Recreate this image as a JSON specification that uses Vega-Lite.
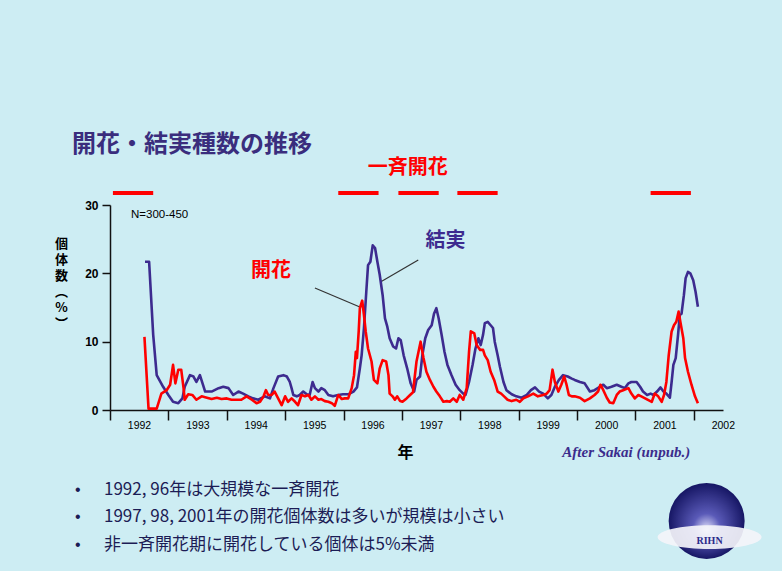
{
  "$schema": "https://vega.github.io/schema/vega-lite/v6.json",
  "width": 613,
  "height": 205,
  "autosize": {"type": "none"},
  "padding": {"left": 110, "top": 205, "right": 59, "bottom": 161},
  "background": "#cdedf3",
  "config": {"view": {"stroke": null}, "font": "Liberation Sans"},
  "title": {
    "text": "開花・結実種数の推移",
    "anchor": "start",
    "frame": "group",
    "dx": -38,
    "offset": -23,
    "baseline": "bottom",
    "font": "Noto Sans CJK JP",
    "fontSize": 24,
    "fontWeight": "bold",
    "color": "#3a2d7d"
  },
  "datasets": {
    "series": [
      {"year": 1992.60, "value": 21.7, "s": "結実"}, {"year": 1992.67, "value": 21.7, "s": "結実"}, {"year": 1992.74, "value": 11.0, "s": "結実"}, {"year": 1992.80, "value": 5.1, "s": "結実"}, {"year": 1992.91, "value": 3.4, "s": "結実"}, {"year": 1993.00, "value": 2.2, "s": "結実"}, {"year": 1993.08, "value": 1.2, "s": "結実"}, {"year": 1993.17, "value": 1.0, "s": "結実"}, {"year": 1993.24, "value": 1.7, "s": "結実"}, {"year": 1993.28, "value": 3.4, "s": "結実"}, {"year": 1993.37, "value": 5.1, "s": "結実"}, {"year": 1993.43, "value": 4.9, "s": "結実"}, {"year": 1993.48, "value": 4.1, "s": "結実"}, {"year": 1993.54, "value": 5.1, "s": "結実"}, {"year": 1993.63, "value": 2.7, "s": "結実"}, {"year": 1993.74, "value": 2.7, "s": "結実"}, {"year": 1993.86, "value": 3.2, "s": "結実"}, {"year": 1993.94, "value": 3.4, "s": "結実"}, {"year": 1994.03, "value": 3.2, "s": "結実"}, {"year": 1994.11, "value": 2.2, "s": "結実"}, {"year": 1994.20, "value": 2.7, "s": "結実"}, {"year": 1994.28, "value": 2.4, "s": "結実"}, {"year": 1994.37, "value": 2.0, "s": "結実"}, {"year": 1994.45, "value": 1.7, "s": "結実"}, {"year": 1994.54, "value": 1.5, "s": "結実"}, {"year": 1994.65, "value": 2.0, "s": "結実"}, {"year": 1994.74, "value": 1.7, "s": "結実"}, {"year": 1994.80, "value": 3.2, "s": "結実"}, {"year": 1994.88, "value": 4.9, "s": "結実"}, {"year": 1994.97, "value": 5.1, "s": "結実"}, {"year": 1995.03, "value": 4.9, "s": "結実"}, {"year": 1995.08, "value": 4.1, "s": "結実"}, {"year": 1995.11, "value": 3.2, "s": "結実"}, {"year": 1995.14, "value": 2.2, "s": "結実"}, {"year": 1995.20, "value": 2.0, "s": "結実"}, {"year": 1995.25, "value": 2.2, "s": "結実"}, {"year": 1995.31, "value": 2.7, "s": "結実"}, {"year": 1995.37, "value": 2.3, "s": "結実"}, {"year": 1995.42, "value": 2.2, "s": "結実"}, {"year": 1995.47, "value": 4.1, "s": "結実"}, {"year": 1995.51, "value": 3.2, "s": "結実"}, {"year": 1995.57, "value": 2.7, "s": "結実"}, {"year": 1995.62, "value": 3.2, "s": "結実"}, {"year": 1995.68, "value": 2.9, "s": "結実"}, {"year": 1995.74, "value": 2.2, "s": "結実"}, {"year": 1995.82, "value": 2.0, "s": "結実"}, {"year": 1995.91, "value": 2.2, "s": "結実"}, {"year": 1995.99, "value": 2.3, "s": "結実"}, {"year": 1996.08, "value": 2.3, "s": "結実"}, {"year": 1996.17, "value": 2.7, "s": "結実"}, {"year": 1996.23, "value": 3.3, "s": "結実"}, {"year": 1996.28, "value": 6.1, "s": "結実"}, {"year": 1996.31, "value": 8.0, "s": "結実"}, {"year": 1996.35, "value": 12.0, "s": "結実"}, {"year": 1996.39, "value": 17.3, "s": "結実"}, {"year": 1996.42, "value": 21.2, "s": "結実"}, {"year": 1996.46, "value": 21.7, "s": "結実"}, {"year": 1996.50, "value": 24.1, "s": "結実"}, {"year": 1996.54, "value": 23.7, "s": "結実"}, {"year": 1996.58, "value": 21.7, "s": "結実"}, {"year": 1996.62, "value": 19.8, "s": "結実"}, {"year": 1996.67, "value": 16.8, "s": "結実"}, {"year": 1996.71, "value": 13.4, "s": "結実"}, {"year": 1996.75, "value": 12.2, "s": "結実"}, {"year": 1996.79, "value": 10.5, "s": "結実"}, {"year": 1996.85, "value": 9.3, "s": "結実"}, {"year": 1996.90, "value": 9.0, "s": "結実"}, {"year": 1996.94, "value": 10.5, "s": "結実"}, {"year": 1996.98, "value": 10.2, "s": "結実"}, {"year": 1997.03, "value": 8.0, "s": "結実"}, {"year": 1997.09, "value": 6.1, "s": "結実"}, {"year": 1997.15, "value": 3.9, "s": "結実"}, {"year": 1997.21, "value": 2.7, "s": "結実"}, {"year": 1997.25, "value": 4.4, "s": "結実"}, {"year": 1997.31, "value": 4.9, "s": "結実"}, {"year": 1997.35, "value": 8.0, "s": "結実"}, {"year": 1997.40, "value": 10.5, "s": "結実"}, {"year": 1997.45, "value": 11.7, "s": "結実"}, {"year": 1997.51, "value": 12.4, "s": "結実"}, {"year": 1997.55, "value": 14.1, "s": "結実"}, {"year": 1997.59, "value": 14.9, "s": "結実"}, {"year": 1997.63, "value": 13.4, "s": "結実"}, {"year": 1997.68, "value": 11.0, "s": "結実"}, {"year": 1997.73, "value": 8.5, "s": "結実"}, {"year": 1997.78, "value": 6.6, "s": "結実"}, {"year": 1997.85, "value": 5.1, "s": "結実"}, {"year": 1997.92, "value": 3.7, "s": "結実"}, {"year": 1997.99, "value": 2.9, "s": "結実"}, {"year": 1998.05, "value": 2.4, "s": "結実"}, {"year": 1998.09, "value": 2.2, "s": "結実"}, {"year": 1998.15, "value": 4.1, "s": "結実"}, {"year": 1998.21, "value": 6.6, "s": "結実"}, {"year": 1998.26, "value": 9.0, "s": "結実"}, {"year": 1998.31, "value": 10.5, "s": "結実"}, {"year": 1998.35, "value": 9.5, "s": "結実"}, {"year": 1998.39, "value": 11.0, "s": "結実"}, {"year": 1998.42, "value": 12.7, "s": "結実"}, {"year": 1998.47, "value": 12.9, "s": "結実"}, {"year": 1998.52, "value": 12.4, "s": "結実"}, {"year": 1998.56, "value": 12.0, "s": "結実"}, {"year": 1998.59, "value": 10.0, "s": "結実"}, {"year": 1998.64, "value": 8.0, "s": "結実"}, {"year": 1998.68, "value": 6.3, "s": "結実"}, {"year": 1998.74, "value": 4.1, "s": "結実"}, {"year": 1998.79, "value": 2.9, "s": "結実"}, {"year": 1998.88, "value": 2.3, "s": "結実"}, {"year": 1998.96, "value": 2.0, "s": "結実"}, {"year": 1999.05, "value": 1.8, "s": "結実"}, {"year": 1999.14, "value": 2.2, "s": "結実"}, {"year": 1999.21, "value": 2.9, "s": "結実"}, {"year": 1999.28, "value": 3.3, "s": "結実"}, {"year": 1999.35, "value": 2.7, "s": "結実"}, {"year": 1999.42, "value": 2.4, "s": "結実"}, {"year": 1999.50, "value": 1.7, "s": "結実"}, {"year": 1999.56, "value": 2.2, "s": "結実"}, {"year": 1999.62, "value": 3.4, "s": "結実"}, {"year": 1999.69, "value": 4.4, "s": "結実"}, {"year": 1999.76, "value": 5.1, "s": "結実"}, {"year": 1999.84, "value": 4.9, "s": "結実"}, {"year": 1999.91, "value": 4.6, "s": "結実"}, {"year": 1999.96, "value": 4.4, "s": "結実"}, {"year": 2000.05, "value": 4.1, "s": "結実"}, {"year": 2000.13, "value": 3.9, "s": "結実"}, {"year": 2000.22, "value": 2.7, "s": "結実"}, {"year": 2000.30, "value": 2.9, "s": "結実"}, {"year": 2000.39, "value": 3.4, "s": "結実"}, {"year": 2000.45, "value": 3.7, "s": "結実"}, {"year": 2000.51, "value": 3.2, "s": "結実"}, {"year": 2000.59, "value": 3.4, "s": "結実"}, {"year": 2000.68, "value": 3.7, "s": "結実"}, {"year": 2000.76, "value": 3.4, "s": "結実"}, {"year": 2000.82, "value": 3.2, "s": "結実"}, {"year": 2000.88, "value": 3.9, "s": "結実"}, {"year": 2000.93, "value": 4.1, "s": "結実"}, {"year": 2001.02, "value": 4.1, "s": "結実"}, {"year": 2001.08, "value": 3.4, "s": "結実"}, {"year": 2001.13, "value": 2.7, "s": "結実"}, {"year": 2001.20, "value": 2.2, "s": "結実"}, {"year": 2001.26, "value": 2.4, "s": "結実"}, {"year": 2001.31, "value": 2.2, "s": "結実"}, {"year": 2001.37, "value": 2.7, "s": "結実"}, {"year": 2001.43, "value": 3.3, "s": "結実"}, {"year": 2001.48, "value": 2.7, "s": "結実"}, {"year": 2001.53, "value": 2.4, "s": "結実"}, {"year": 2001.59, "value": 1.8, "s": "結実"}, {"year": 2001.62, "value": 4.1, "s": "結実"}, {"year": 2001.65, "value": 6.6, "s": "結実"}, {"year": 2001.69, "value": 7.6, "s": "結実"}, {"year": 2001.73, "value": 11.0, "s": "結実"}, {"year": 2001.76, "value": 13.9, "s": "結実"}, {"year": 2001.79, "value": 14.1, "s": "結実"}, {"year": 2001.83, "value": 16.8, "s": "結実"}, {"year": 2001.86, "value": 19.3, "s": "結実"}, {"year": 2001.90, "value": 20.2, "s": "結実"}, {"year": 2001.94, "value": 20.0, "s": "結実"}, {"year": 2001.99, "value": 19.0, "s": "結実"}, {"year": 2002.03, "value": 17.3, "s": "結実"}, {"year": 2002.07, "value": 15.1, "s": "結実"},
      {"year": 1992.59, "value": 10.7, "s": "開花"}, {"year": 1992.66, "value": 0.2, "s": "開花"}, {"year": 1992.80, "value": 0.2, "s": "開花"}, {"year": 1992.88, "value": 2.4, "s": "開花"}, {"year": 1992.97, "value": 2.9, "s": "開花"}, {"year": 1993.03, "value": 3.7, "s": "開花"}, {"year": 1993.08, "value": 6.6, "s": "開花"}, {"year": 1993.12, "value": 3.9, "s": "開花"}, {"year": 1993.17, "value": 5.9, "s": "開花"}, {"year": 1993.22, "value": 5.9, "s": "開花"}, {"year": 1993.26, "value": 3.2, "s": "開花"}, {"year": 1993.28, "value": 1.5, "s": "開花"}, {"year": 1993.34, "value": 2.3, "s": "開花"}, {"year": 1993.41, "value": 2.2, "s": "開花"}, {"year": 1993.48, "value": 1.5, "s": "開花"}, {"year": 1993.57, "value": 2.0, "s": "開花"}, {"year": 1993.66, "value": 1.8, "s": "開花"}, {"year": 1993.74, "value": 1.6, "s": "開花"}, {"year": 1993.83, "value": 1.8, "s": "開花"}, {"year": 1993.91, "value": 1.6, "s": "開花"}, {"year": 1994.00, "value": 1.7, "s": "開花"}, {"year": 1994.08, "value": 1.5, "s": "開花"}, {"year": 1994.17, "value": 1.5, "s": "開花"}, {"year": 1994.25, "value": 1.5, "s": "開花"}, {"year": 1994.34, "value": 2.0, "s": "開花"}, {"year": 1994.43, "value": 1.5, "s": "開花"}, {"year": 1994.51, "value": 1.0, "s": "開花"}, {"year": 1994.57, "value": 1.2, "s": "開花"}, {"year": 1994.63, "value": 2.0, "s": "開花"}, {"year": 1994.67, "value": 2.9, "s": "開花"}, {"year": 1994.71, "value": 2.2, "s": "開花"}, {"year": 1994.77, "value": 2.2, "s": "開花"}, {"year": 1994.82, "value": 2.7, "s": "開花"}, {"year": 1994.88, "value": 1.7, "s": "開花"}, {"year": 1994.94, "value": 0.7, "s": "開花"}, {"year": 1995.00, "value": 2.0, "s": "開花"}, {"year": 1995.05, "value": 1.2, "s": "開花"}, {"year": 1995.11, "value": 1.7, "s": "開花"}, {"year": 1995.17, "value": 1.2, "s": "開花"}, {"year": 1995.22, "value": 0.7, "s": "開花"}, {"year": 1995.28, "value": 2.2, "s": "開花"}, {"year": 1995.34, "value": 2.0, "s": "開花"}, {"year": 1995.40, "value": 2.2, "s": "開花"}, {"year": 1995.45, "value": 1.5, "s": "開花"}, {"year": 1995.51, "value": 2.0, "s": "開花"}, {"year": 1995.57, "value": 1.5, "s": "開花"}, {"year": 1995.62, "value": 1.6, "s": "開花"}, {"year": 1995.68, "value": 1.3, "s": "開花"}, {"year": 1995.74, "value": 1.2, "s": "開花"}, {"year": 1995.80, "value": 1.0, "s": "開花"}, {"year": 1995.85, "value": 0.6, "s": "開花"}, {"year": 1995.91, "value": 2.2, "s": "開花"}, {"year": 1995.97, "value": 1.6, "s": "開花"}, {"year": 1996.02, "value": 1.7, "s": "開花"}, {"year": 1996.08, "value": 1.7, "s": "開花"}, {"year": 1996.14, "value": 3.2, "s": "開花"}, {"year": 1996.18, "value": 5.1, "s": "開花"}, {"year": 1996.21, "value": 8.5, "s": "開花"}, {"year": 1996.23, "value": 7.6, "s": "開花"}, {"year": 1996.26, "value": 11.5, "s": "開花"}, {"year": 1996.28, "value": 14.9, "s": "開花"}, {"year": 1996.32, "value": 16.0, "s": "開花"}, {"year": 1996.35, "value": 13.9, "s": "開花"}, {"year": 1996.38, "value": 11.5, "s": "開花"}, {"year": 1996.42, "value": 9.0, "s": "開花"}, {"year": 1996.48, "value": 7.1, "s": "開花"}, {"year": 1996.52, "value": 4.4, "s": "開花"}, {"year": 1996.58, "value": 3.9, "s": "開花"}, {"year": 1996.62, "value": 6.1, "s": "開花"}, {"year": 1996.67, "value": 7.3, "s": "開花"}, {"year": 1996.73, "value": 7.1, "s": "開花"}, {"year": 1996.77, "value": 5.1, "s": "開花"}, {"year": 1996.79, "value": 2.4, "s": "開花"}, {"year": 1996.84, "value": 2.0, "s": "開花"}, {"year": 1996.88, "value": 1.5, "s": "開花"}, {"year": 1996.92, "value": 2.0, "s": "開花"}, {"year": 1996.97, "value": 1.3, "s": "開花"}, {"year": 1997.01, "value": 1.2, "s": "開花"}, {"year": 1997.08, "value": 1.7, "s": "開花"}, {"year": 1997.14, "value": 2.2, "s": "開花"}, {"year": 1997.19, "value": 2.6, "s": "開花"}, {"year": 1997.25, "value": 7.1, "s": "開花"}, {"year": 1997.32, "value": 10.0, "s": "開花"}, {"year": 1997.37, "value": 7.6, "s": "開花"}, {"year": 1997.42, "value": 5.6, "s": "開花"}, {"year": 1997.48, "value": 4.4, "s": "開花"}, {"year": 1997.54, "value": 3.4, "s": "開花"}, {"year": 1997.59, "value": 2.7, "s": "開花"}, {"year": 1997.65, "value": 2.0, "s": "開花"}, {"year": 1997.71, "value": 1.2, "s": "開花"}, {"year": 1997.77, "value": 1.3, "s": "開花"}, {"year": 1997.82, "value": 1.2, "s": "開花"}, {"year": 1997.88, "value": 1.7, "s": "開花"}, {"year": 1997.94, "value": 1.2, "s": "開花"}, {"year": 1997.99, "value": 2.2, "s": "開花"}, {"year": 1998.05, "value": 1.5, "s": "開花"}, {"year": 1998.11, "value": 3.2, "s": "開花"}, {"year": 1998.15, "value": 8.5, "s": "開花"}, {"year": 1998.18, "value": 11.5, "s": "開花"}, {"year": 1998.24, "value": 11.2, "s": "開花"}, {"year": 1998.28, "value": 9.5, "s": "開花"}, {"year": 1998.34, "value": 8.8, "s": "開花"}, {"year": 1998.39, "value": 8.8, "s": "開花"}, {"year": 1998.42, "value": 8.0, "s": "開花"}, {"year": 1998.47, "value": 7.3, "s": "開花"}, {"year": 1998.52, "value": 5.6, "s": "開花"}, {"year": 1998.58, "value": 4.4, "s": "開花"}, {"year": 1998.64, "value": 2.7, "s": "開花"}, {"year": 1998.70, "value": 2.4, "s": "開花"}, {"year": 1998.75, "value": 2.0, "s": "開花"}, {"year": 1998.81, "value": 1.5, "s": "開花"}, {"year": 1998.88, "value": 1.3, "s": "開花"}, {"year": 1998.96, "value": 1.5, "s": "開花"}, {"year": 1999.02, "value": 1.2, "s": "開花"}, {"year": 1999.08, "value": 1.7, "s": "開花"}, {"year": 1999.16, "value": 2.0, "s": "開花"}, {"year": 1999.25, "value": 2.4, "s": "開花"}, {"year": 1999.33, "value": 2.0, "s": "開花"}, {"year": 1999.42, "value": 2.2, "s": "開花"}, {"year": 1999.48, "value": 2.4, "s": "開花"}, {"year": 1999.53, "value": 2.9, "s": "開花"}, {"year": 1999.58, "value": 5.9, "s": "開花"}, {"year": 1999.62, "value": 4.1, "s": "開花"}, {"year": 1999.68, "value": 2.7, "s": "開花"}, {"year": 1999.73, "value": 3.7, "s": "開花"}, {"year": 1999.78, "value": 4.9, "s": "開花"}, {"year": 1999.82, "value": 3.7, "s": "開花"}, {"year": 1999.86, "value": 2.2, "s": "開花"}, {"year": 1999.91, "value": 2.0, "s": "開花"}, {"year": 1999.96, "value": 2.0, "s": "開花"}, {"year": 2000.05, "value": 1.8, "s": "開花"}, {"year": 2000.13, "value": 1.3, "s": "開花"}, {"year": 2000.22, "value": 1.7, "s": "開花"}, {"year": 2000.30, "value": 2.2, "s": "開花"}, {"year": 2000.36, "value": 2.7, "s": "開花"}, {"year": 2000.40, "value": 3.7, "s": "開花"}, {"year": 2000.45, "value": 2.9, "s": "開花"}, {"year": 2000.51, "value": 1.8, "s": "開花"}, {"year": 2000.56, "value": 1.1, "s": "開花"}, {"year": 2000.62, "value": 1.0, "s": "開花"}, {"year": 2000.68, "value": 2.2, "s": "開花"}, {"year": 2000.73, "value": 2.7, "s": "開花"}, {"year": 2000.79, "value": 2.9, "s": "開花"}, {"year": 2000.88, "value": 3.2, "s": "開花"}, {"year": 2000.93, "value": 2.4, "s": "開花"}, {"year": 2000.99, "value": 1.7, "s": "開花"}, {"year": 2001.05, "value": 2.2, "s": "開花"}, {"year": 2001.10, "value": 2.0, "s": "開花"}, {"year": 2001.19, "value": 1.6, "s": "開花"}, {"year": 2001.28, "value": 1.2, "s": "開花"}, {"year": 2001.33, "value": 2.4, "s": "開花"}, {"year": 2001.39, "value": 2.0, "s": "開花"}, {"year": 2001.45, "value": 1.2, "s": "開花"}, {"year": 2001.49, "value": 2.2, "s": "開花"}, {"year": 2001.53, "value": 4.1, "s": "開花"}, {"year": 2001.57, "value": 8.0, "s": "開花"}, {"year": 2001.62, "value": 11.5, "s": "開花"}, {"year": 2001.66, "value": 12.4, "s": "開花"}, {"year": 2001.70, "value": 12.9, "s": "開花"}, {"year": 2001.74, "value": 14.4, "s": "開花"}, {"year": 2001.77, "value": 12.9, "s": "開花"}, {"year": 2001.82, "value": 10.5, "s": "開花"}, {"year": 2001.85, "value": 7.6, "s": "開花"}, {"year": 2001.90, "value": 5.6, "s": "開花"}, {"year": 2001.96, "value": 3.7, "s": "開花"}, {"year": 2002.02, "value": 2.0, "s": "開花"}, {"year": 2002.07, "value": 1.0, "s": "開花"}
    ]
  },
  "encoding": {
    "x": {
      "field": "year",
      "type": "quantitative",
      "scale": {"domain": [1992, 2002.5], "nice": false, "zero": false},
      "axis": {
        "values": [1992, 1993, 1994, 1995, 1996, 1997, 1998, 1999, 2000, 2001, 2002],
        "format": "d",
        "labelOffset": 29,
        "labelFlush": false,
        "labelOverlap": false,
        "labelFontSize": 10.5,
        "labelColor": "#000000",
        "labelPadding": 0,
        "tickSize": 10,
        "tickWidth": 1.5,
        "tickColor": "#111111",
        "domainColor": "#111111",
        "domainWidth": 1.5,
        "grid": false,
        "title": "年",
        "titleFont": "Noto Sans CJK JP",
        "titleFontSize": 16,
        "titleFontWeight": "bold",
        "titleColor": "#000000",
        "titleX": 295,
        "titleY": 42,
        "titleBaseline": "middle",
        "titleAlign": "center"
      }
    },
    "y": {
      "field": "value",
      "type": "quantitative",
      "scale": {"domain": [0, 30], "nice": false},
      "axis": {
        "values": [0, 10, 20, 30],
        "labelFontSize": 12,
        "labelFontWeight": "bold",
        "labelColor": "#000000",
        "labelPadding": 4,
        "tickSize": 8,
        "tickWidth": 1.5,
        "tickColor": "#111111",
        "domainColor": "#111111",
        "domainWidth": 1.5,
        "grid": false,
        "title": ["個", "体", "数", "︵", "%", "︶"],
        "titleAngle": 0,
        "titleFont": "Noto Sans CJK JP",
        "titleFontSize": 13,
        "titleFontWeight": "bold",
        "titleColor": "#000000",
        "titleLineHeight": 16,
        "titleX": -49,
        "titleY": 32,
        "titleAlign": "center",
        "titleBaseline": "top"
      }
    }
  },
  "layer": [
    {
      "data": {"values": [
        {"year": 1992.05, "year2": 1992.74, "value": 31.76},
        {"year": 1995.91, "year2": 1996.60, "value": 31.76},
        {"year": 1996.94, "year2": 1997.63, "value": 31.76},
        {"year": 1997.95, "year2": 1998.64, "value": 31.76},
        {"year": 2001.26, "year2": 2001.95, "value": 31.76}
      ]},
      "mark": {"type": "rule", "color": "#ff0000", "strokeWidth": 4, "strokeCap": "butt"},
      "encoding": {"x2": {"field": "year2"}}
    },
    {
      "data": {"values": [
        {"year": 1995.51, "value": 17.85, "year2": 1996.28, "value2": 15.07},
        {"year": 1997.28, "value": 21.95, "year2": 1996.64, "value2": 18.78}
      ]},
      "mark": {"type": "rule", "color": "#333333", "strokeWidth": 1.2},
      "encoding": {"x2": {"field": "year2"}, "y2": {"field": "value2"}}
    },
    {
      "data": {"name": "series"},
      "mark": {"type": "line", "strokeWidth": 2.6, "strokeJoin": "round"},
      "encoding": {
        "color": {"field": "s", "type": "nominal", "scale": {"domain": ["結実", "開花"], "range": ["#3d2b8f", "#ff0000"]}, "legend": null}
      }
    },
    {
      "data": {"values": [
        {"year": 1997.10, "value": 35.4, "label": "一斉開花"},
        {"year": 1994.757, "value": 20.34, "label": "開花"}
      ]},
      "mark": {"type": "text", "font": "Noto Sans CJK JP", "fontSize": 20, "fontWeight": "bold", "color": "#ff0000", "align": "center", "baseline": "middle"},
      "encoding": {"text": {"field": "label"}}
    },
    {
      "data": {"values": [{"year": 1997.747, "value": 24.66, "label": "結実"}]},
      "mark": {"type": "text", "font": "Noto Sans CJK JP", "fontSize": 20, "fontWeight": "bold", "color": "#3d2b8f", "align": "center", "baseline": "middle"},
      "encoding": {"text": {"field": "label"}}
    },
    {
      "data": {"values": [{"year": 1992.36, "value": 28.5, "label": "N=300-450"}]},
      "mark": {"type": "text", "font": "Liberation Sans", "fontSize": 11.5, "color": "#000000", "align": "left", "baseline": "middle"},
      "encoding": {"text": {"field": "label"}}
    },
    {
      "data": {"values": [{"year": 2000.844, "value": -6.15, "label": "After Sakai (unpub.)"}]},
      "mark": {"type": "text", "font": "Liberation Serif", "fontSize": 15, "fontStyle": "italic", "fontWeight": "bold", "color": "#3b2c8c", "align": "center", "baseline": "middle"},
      "encoding": {"text": {"field": "label"}}
    },
    {
      "data": {"values": [
        {"year": 1991.45, "value": -11.71, "label": "•"},
        {"year": 1991.45, "value": -15.66, "label": "•"},
        {"year": 1991.45, "value": -19.76, "label": "•"}
      ]},
      "mark": {"type": "text", "font": "Liberation Sans", "fontSize": 16, "color": "#1c1c55", "align": "center", "baseline": "middle"},
      "encoding": {"text": {"field": "label"}}
    },
    {
      "data": {"values": [
        {"year": 1991.897, "value": -11.71, "label": "1992, 96年は大規模な一斉開花"},
        {"year": 1991.897, "value": -15.66, "label": "1997, 98, 2001年の開花個体数は多いが規模は小さい"},
        {"year": 1991.897, "value": -19.76, "label": "非一斉開花期に開花している個体は5%未満"}
      ]},
      "mark": {"type": "text", "font": "Noto Sans CJK JP", "fontSize": 17, "color": "#1c1c55", "align": "left", "baseline": "middle"},
      "encoding": {"text": {"field": "label"}}
    },
    {
      "data": {"values": [{"year": 2002.22, "value": -16.24}]},
      "mark": {
        "type": "point", "shape": "circle", "filled": true, "size": 5776, "opacity": 1,
        "fill": {"gradient": "radial", "x1": 0.5, "y1": 0.62, "r1": 0, "x2": 0.5, "y2": 0.5, "r2": 0.5,
          "stops": [{"offset": 0, "color": "#e8e8ff"}, {"offset": 0.35, "color": "#5a5ab8"}, {"offset": 1, "color": "#161664"}]},
        "stroke": null
      }
    },
    {
      "data": {"values": [{"year": 2002.27, "value": -18.6}]},
      "mark": {
        "type": "point", "shape": "M-1,0A1,0.23 0 1,0 1,0A1,0.23 0 1,0 -1,0Z", "filled": true, "size": 10816,
        "fill": "#f4f4fa", "opacity": 0.92, "stroke": null
      }
    },
    {
      "data": {"values": [{"year": 2002.27, "value": -19.2, "label": "RIHN"}]},
      "mark": {"type": "text", "font": "Liberation Serif", "fontSize": 10, "fontWeight": "bold", "color": "#2a2a8a", "align": "center", "baseline": "middle"},
      "encoding": {"text": {"field": "label"}}
    }
  ]
}
